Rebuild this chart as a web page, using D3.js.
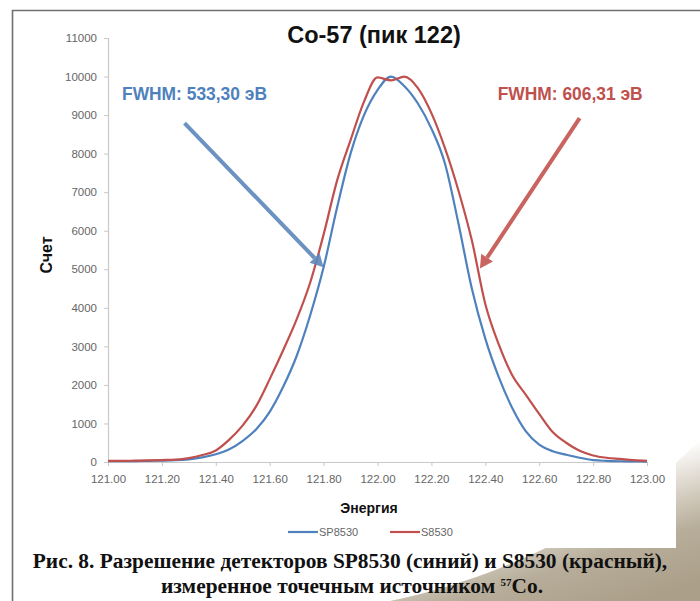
<!DOCTYPE html>
<html><head><meta charset="utf-8">
<script src="https://cdn.jsdelivr.net/npm/d3@7"></script>
<style>body{margin:0;background:#fff}svg{display:block}</style>
</head><body><svg id="c" width="700" height="601"></svg>
<script>
const energy = [121.00,121.05,121.10,121.15,121.20,121.25,121.30,121.35,121.40,121.45,
  121.50,121.55,121.60,121.65,121.70,121.75,121.80,121.85,121.90,121.95,
  122.00,122.05,122.10,122.15,122.20,122.25,122.30,122.35,122.40,122.45,
  122.50,122.55,122.60,122.65,122.70,122.75,122.80,122.85,122.90,122.95,123.00];
const sp8530 = [20,20,25,30,35,45,70,120,200,330,
  550,850,1300,1950,2750,3800,5050,6600,8000,9000,
  9650,10000,9750,9300,8650,7750,6200,4500,3200,2200,
  1400,800,450,280,190,110,50,30,20,15,10];
const s8530 = [30,30,35,40,50,60,100,180,300,580,
  950,1450,2150,2900,3700,4650,5900,7300,8350,9350,
  9980,9900,10000,9700,9050,8150,7050,5750,4100,3050,
  2250,1750,1250,780,500,290,170,110,80,50,30];
const seriesNames = ["SP8530","S8530"];
const seriesColors = ["#4f81bd","#c0504d"];
const xTicks = [121.0,121.2,121.4,121.6,121.8,122.0,122.2,122.4,122.6,122.8,123.0];
const yTicks = [0,1000,2000,3000,4000,5000,6000,7000,8000,9000,10000,11000];
const fwhmLabels = ["FWHM: 533,30 эВ","FWHM: 606,31 эВ"];
const fwhmLabelPos = [[121.052,9390],[122.446,9390]];
const arrowFrom = [[121.284,8790],[122.750,8920]];
const arrowTo = [[121.800,5050],[122.380,5020]];

const svg = d3.select("#c");
const x = d3.scaleLinear().domain([121,123]).range([108,647]);
const y = d3.scaleLinear().domain([0,11000]).range([462,38]);

// background swoosh
const defs = svg.append("defs");
const g1 = defs.append("linearGradient").attr("id","sw").attr("gradientUnits","userSpaceOnUse")
  .attr("x1",600).attr("y1",470).attr("x2",640).attr("y2",601);
g1.append("stop").attr("offset","0").attr("stop-color","#ffffff");
g1.append("stop").attr("offset","0.35").attr("stop-color","#d4cdc0");
g1.append("stop").attr("offset","0.6").attr("stop-color","#b7ad9a");
g1.append("stop").attr("offset","1").attr("stop-color","#ab9f89");
svg.append("path").attr("d","M390,601 C470,585 600,540 700,440 L700,601 Z").attr("fill","url(#sw)");
svg.append("rect").attr("x",12).attr("y",10).attr("width",664).attr("height",538).attr("fill","#fff");

// frame
svg.append("line").attr("x1",12).attr("x2",700).attr("y1",10.5).attr("y2",10.5).attr("stroke","#707070").attr("stroke-width",1.6);
svg.append("line").attr("x1",12.5).attr("x2",12.5).attr("y1",10).attr("y2",601).attr("stroke","#707070").attr("stroke-width",1.6);

// axes
const axisColor = "#c8c8c8";
const tickFont = "'Liberation Sans', Arial, sans-serif";
const yAxis = svg.append("g").attr("transform","translate(108,0)")
  .call(d3.axisLeft(y).tickValues(yTicks).tickSize(4).tickPadding(7).tickFormat(d3.format("d")));
const xAxis = svg.append("g").attr("transform","translate(0,462)")
  .call(d3.axisBottom(x).tickValues(xTicks).tickSize(4).tickPadding(9).tickFormat(d3.format(".2f")));
[yAxis,xAxis].forEach(a=>{
  a.select(".domain").attr("stroke",axisColor).attr("stroke-width",1.2);
  a.selectAll(".tick line").attr("stroke",axisColor);
  a.selectAll(".tick text").attr("fill","#666").attr("font-family",tickFont).attr("font-size",11.5);
});
xAxis.select(".domain").attr("d","M108,0.5H647");

// lines
const series = [sp8530, s8530];
const line = d3.line().x((d,i)=>x(energy[i])).y(d=>y(d)).curve(d3.curveMonotoneX);
series.forEach((s,k)=>{
  svg.append("path").datum(s).attr("d",line).attr("fill","none")
    .attr("stroke",seriesColors[k]).attr("stroke-width",2.2).attr("stroke-linejoin","round");
});

// title & axis labels
const sans = "'Liberation Sans', Arial, sans-serif";
svg.append("text").attr("x",374).attr("y",43).attr("text-anchor","middle")
  .attr("font-family",sans).attr("font-weight","bold").attr("font-size",23.5).attr("fill","#111")
  .text("Co-57 (пик 122)");
svg.append("text").attr("transform","translate(52,255) rotate(-90)").attr("text-anchor","middle")
  .attr("font-family",sans).attr("font-weight","bold").attr("font-size",16).attr("fill","#111").text("Счет");
svg.append("text").attr("x",369).attr("y",513).attr("text-anchor","middle")
  .attr("font-family",sans).attr("font-weight","bold").attr("font-size",14).attr("fill","#111").text("Энергия");

// legend
const legX = [288,390];
seriesNames.forEach((n,k)=>{
  svg.append("line").attr("x1",legX[k]).attr("x2",legX[k]+30).attr("y1",532).attr("y2",532)
    .attr("stroke",seriesColors[k]).attr("stroke-width",2.2);
  svg.append("text").attr("x",legX[k]+31).attr("y",536).attr("font-family",tickFont)
    .attr("font-size",11).attr("fill","#666").text(n);
});

// arrows
const arrowColors = ["#5b87ba","#c4534f"];
arrowFrom.forEach((f,k)=>{
  const x1=x(f[0]), y1=y(f[1]), x2=x(arrowTo[k][0]), y2=y(arrowTo[k][1]);
  const ang=Math.atan2(y2-y1,x2-x1), L=13, W=7;
  const bx=x2-L*Math.cos(ang), by=y2-L*Math.sin(ang);
  svg.append("line").attr("x1",x1).attr("y1",y1).attr("x2",bx).attr("y2",by)
    .attr("stroke",arrowColors[k]).attr("stroke-width",4).attr("opacity",0.9);
  const px=-Math.sin(ang), py=Math.cos(ang);
  svg.append("path").attr("d",`M${x2},${y2}L${bx+W*px},${by+W*py}L${bx-W*px},${by-W*py}Z`)
    .attr("fill",arrowColors[k]).attr("opacity",0.9);
});

// FWHM labels
fwhmLabels.forEach((t,k)=>{
  svg.append("text").attr("x",x(fwhmLabelPos[k][0])).attr("y",y(fwhmLabelPos[k][1]))
    .attr("font-family",sans).attr("font-weight","bold").attr("font-size",18.5)
    .attr("fill",seriesColors[k]).attr("textLength",145).attr("lengthAdjust","spacingAndGlyphs").text(t);
});

// caption
const serif = "'Liberation Serif','Times New Roman',serif";
const cap1 = svg.append("text").attr("x",350).attr("y",568).attr("text-anchor","middle")
  .attr("font-family",serif).attr("font-weight","bold").attr("font-size",18).attr("fill","#111")
  .text("Рис. 8. Разрешение детекторов SP8530 (синий) и S8530 (красный),");
let w = cap1.node().getComputedTextLength();
cap1.attr("font-size",18*635/w);
const cap2 = svg.append("text").attr("x",352).attr("y",593).attr("text-anchor","middle")
  .attr("font-family",serif).attr("font-weight","bold").attr("font-size",18*635/w).attr("fill","#111");
cap2.append("tspan").text("измеренное точечным источником ");
cap2.append("tspan").attr("font-size",11).attr("dy",-7).text("57");
cap2.append("tspan").attr("dy",7).text("Co.");
</script></body></html>
